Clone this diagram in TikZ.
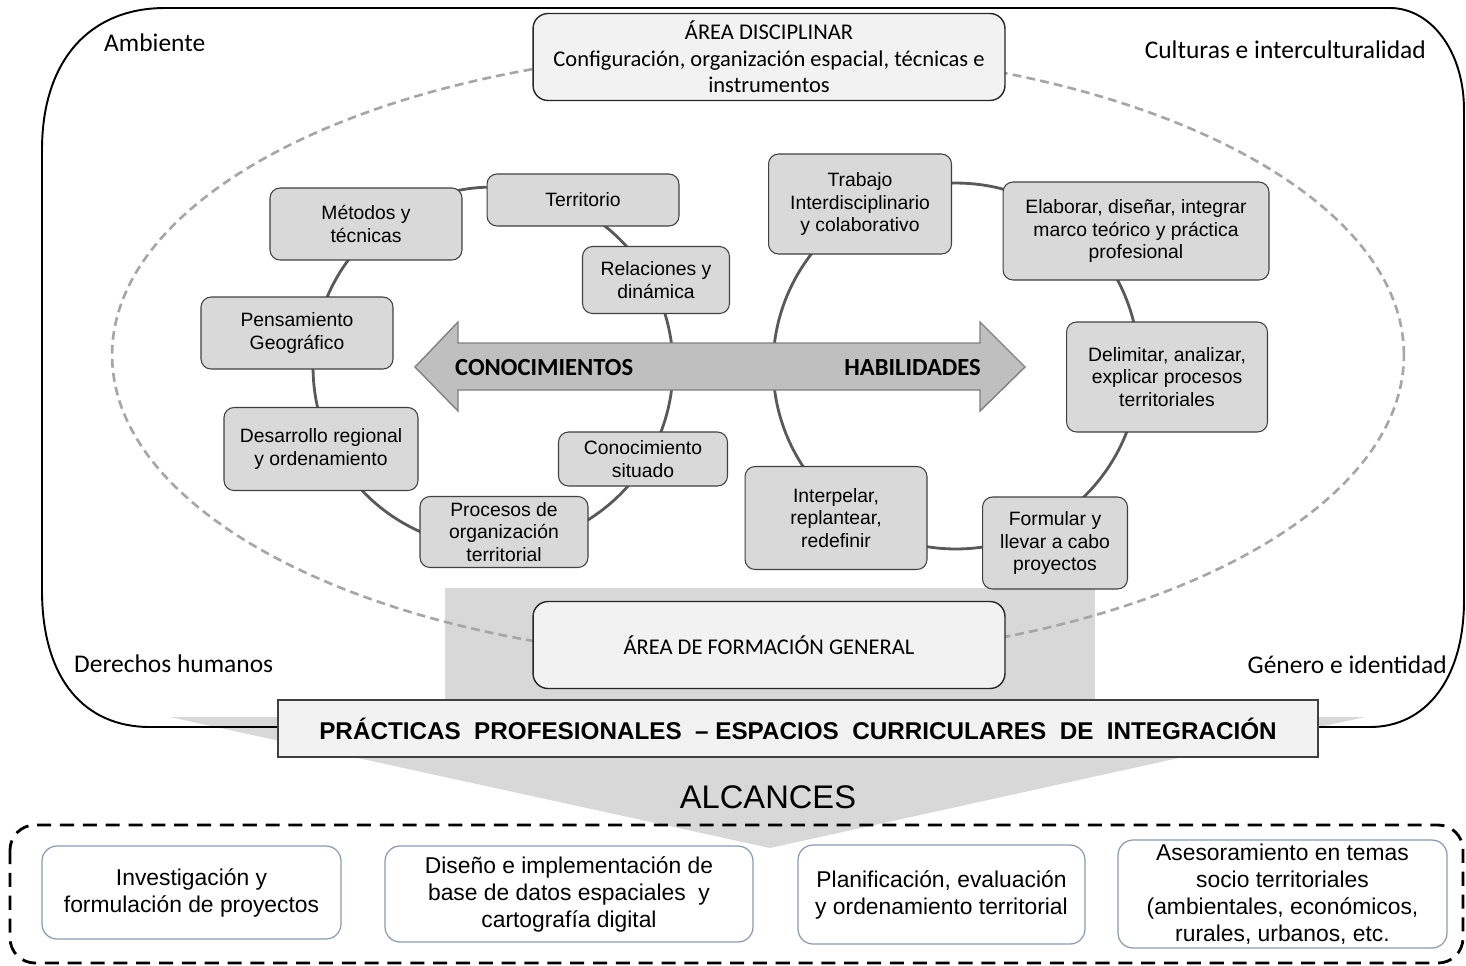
\documentclass[tikz,border=0pt]{standalone}
\usepackage{fontspec}
\setmainfont{Liberation Sans}
\newfontfamily\calfont{Carlito}
\usetikzlibrary{positioning}

\definecolor{boxgray}{HTML}{D9D9D9}
\definecolor{paper}{HTML}{F2F2F2}
\definecolor{ringgray}{HTML}{595959}
\definecolor{ellgray}{HTML}{A6A6A6}
\definecolor{arrowgray}{HTML}{BFBFBF}
\definecolor{panelgray}{HTML}{D8D8D8}
\definecolor{reachblue}{HTML}{8A9BB0}

\begin{document}
\begin{tikzpicture}[x=0.02cm, y=-0.02cm,
    topic/.style={draw=black!75, fill=boxgray, rounded corners=0.2cm,
      line width=0.6pt, align=center, inner sep=0pt,
      font=\fontsize{11}{13}\selectfont},
    area/.style={draw=black!85, fill=paper, rounded corners=0.3cm,
      line width=0.8pt, align=center, inner sep=0pt,
      minimum width=9.44cm, minimum height=1.74cm,
      font=\calfont\fontsize{12.8}{15}\selectfont},
    ring/.style={circle, draw=ringgray, line width=1.6pt, inner sep=0pt},
    corner/.style={font=\calfont\fontsize{14.5}{16}\selectfont},
    reach/.style={draw=reachblue, fill=white, rounded corners=0.3cm,
      line width=0.7pt, align=center, inner sep=0pt,
      font=\fontsize{13}{15.4}\selectfont}]
  \useasboundingbox (0,0) rectangle (1466,965);

  % background shapes
  \fill[panelgray] (445,588) rectangle (1095,700);
  \fill[panelgray] (170,717) -- (1365,717) -- (770,848) -- cycle;
  \draw[ellgray, line width=1.5pt, dash pattern=on 5pt off 3pt]
    (758,355) ellipse [x radius=12.92cm, y radius=6.1cm];
  \draw[black, line width=1.1pt]
    (42,150) .. controls (42,60) and (90,8) .. (165,8) -- (1390,8)
    .. controls (1430,8) and (1464,50) .. (1464,110) -- (1464,600)
    .. controls (1464,680) and (1425,727) .. (1370,727) -- (150,727)
    .. controls (85,727) and (42,680) .. (42,590) -- cycle;

  % rings
  \node[ring, minimum size=7.2cm] (lring) at (493,367) {};
  \node[ring, minimum size=7.32cm] (rring) at (956,366) {};

  % double arrow
  \filldraw[fill=arrowgray, draw=black!50, line width=0.8pt]
    (415,367) -- (458,322) -- (458,343) -- (980,343) -- (980,322)
    -- (1025,367) -- (980,411) -- (980,390) -- (458,390) -- (458,411) -- cycle;
  \node[anchor=west, font=\calfont\bfseries\fontsize{14}{16}\selectfont]
    (know) at (449,368) {CONOCIMIENTOS};
  \node[anchor=east, font=\calfont\bfseries\fontsize{14}{16}\selectfont]
    (skill) at (987,368) {HABILIDADES};

  % knowledge topics
  \node[topic, minimum width=3.84cm, minimum height=1.44cm] (met)
    at (366,224) {Métodos y\\técnicas};
  \node[topic, minimum width=3.84cm, minimum height=1.04cm] (ter)
    at (583,200) {Territorio};
  \node[topic, minimum width=2.94cm, minimum height=1.34cm] (rel)
    at (656,280) {Relaciones y\\dinámica};
  \node[topic, minimum width=3.84cm, minimum height=1.44cm] (pen)
    at (297,333) {Pensamiento\\Geográfico};
  \node[topic, minimum width=3.88cm, minimum height=1.66cm] (des)
    at (321,449) {Desarrollo regional\\y ordenamiento};
  \node[topic, minimum width=3.38cm, minimum height=1.08cm] (sit)
    at (643,459) {Conocimiento\\situado};
  \node[topic, minimum width=3.36cm, minimum height=1.42cm] (pro)
    at (504,532) {Procesos de\\organización\\territorial};

  % skill topics
  \node[topic, minimum width=3.66cm, minimum height=2cm] (tra)
    at (860,204) {Trabajo\\Interdisciplinario\\y colaborativo};
  \node[topic, minimum width=5.32cm, minimum height=1.96cm] (ela)
    at (1136,231) {Elaborar, diseñar, integrar\\marco teórico y práctica\\profesional};
  \node[topic, minimum width=4.02cm, minimum height=2.2cm] (del)
    at (1167,377) {Delimitar, analizar,\\explicar procesos\\territoriales};
  \node[topic, minimum width=3.64cm, minimum height=2.06cm] (itp)
    at (836,518) {Interpelar,\\replantear,\\redefinir};
  \node[topic, minimum width=2.9cm, minimum height=1.84cm] (fml)
    at (1055,543) {Formular y\\llevar a cabo\\proyectos};

  % areas
  \node[area] (disc) at (769,57)
    {ÁREA DISCIPLINAR\\Configuración, organización espacial, técnicas e\\instrumentos};
  \node[area] (gen) at (769,645) {ÁREA DE FORMACIÓN GENERAL};

  % transversal axes
  \node[corner, anchor=west] (amb) at (98,43) {Ambiente};
  \node[corner, anchor=east] (cul) at (1432,50) {Culturas e interculturalidad};
  \node[corner, anchor=west] (der) at (68,664) {Derechos humanos};
  \node[corner, anchor=east] (gen2) at (1453,665) {Género e identidad};

  % practices
  \node[draw=black!75, fill=paper, line width=0.8pt, minimum width=20.8cm,
    minimum height=1.14cm, inner sep=0pt,
    font=\bfseries\fontsize{13.8}{16}\selectfont] (prac) at (798,728.5)
    {PRÁCTICAS~~PROFESIONALES~~– ESPACIOS~~CURRICULARES~~DE~~INTEGRACIÓN};
  \node[font=\fontsize{18.6}{20}\selectfont] (alc) at (768,797) {ALCANCES};

  % scopes
  \draw[black, line width=1.6pt, dash pattern=on 8pt off 5pt,
    rounded corners=0.5cm] (10,825) rectangle (1463,963);
  \node[reach, minimum width=5.98cm, minimum height=1.86cm] (inv)
    at (191.5,892.5) {Investigación y\\formulación de proyectos};
  \node[reach, minimum width=7.36cm, minimum height=1.92cm] (dis)
    at (569,894) {Diseño e implementación de\\base de datos espaciales~ y\\cartografía digital};
  \node[reach, minimum width=5.74cm, minimum height=1.98cm] (pla)
    at (941.5,894.5) {Planificación, evaluación\\y ordenamiento territorial};
  \node[reach, minimum width=6.58cm, minimum height=2.16cm] (ase)
    at (1282.5,894) {Asesoramiento en temas\\socio territoriales\\(ambientales, económicos,\\rurales, urbanos, etc.};
\end{tikzpicture}
\end{document}
